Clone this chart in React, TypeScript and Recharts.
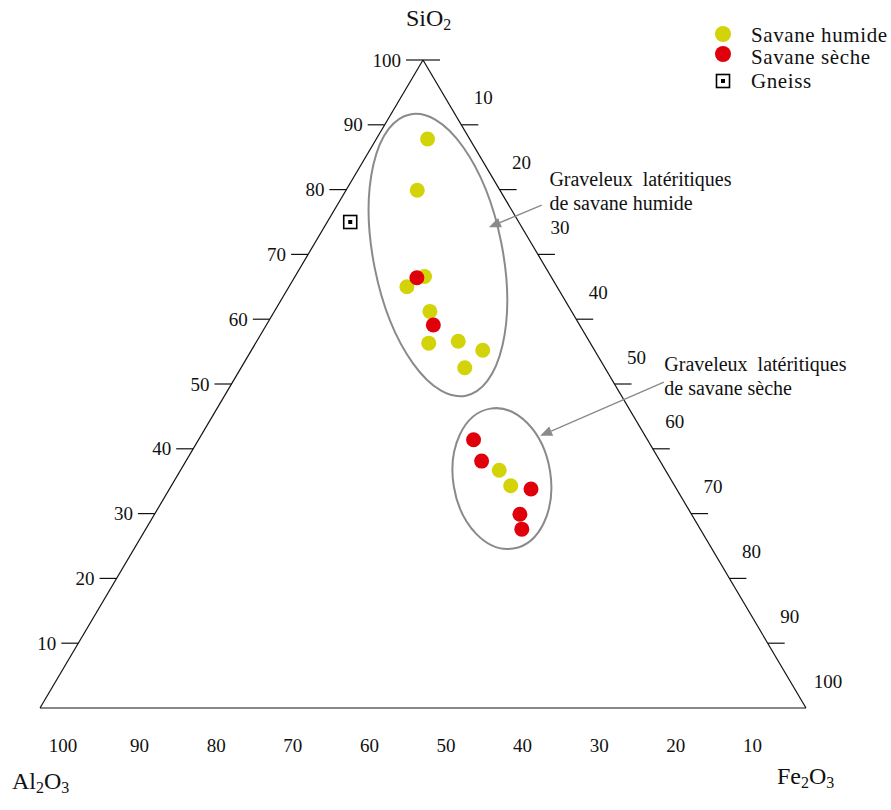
import React from 'react';
import { ScatterChart, Scatter, XAxis, YAxis, ReferenceLine, ReferenceDot, Legend } from 'recharts';

// ---- Data (ternary compositions, %) ----
const HUMIDE_SIO2 = [87.8, 79.9, 66.6, 65.0, 61.2, 56.3, 56.6, 55.2, 52.5, 36.7, 34.3];
const HUMIDE_AL2O3 = [5.5, 10.8, 16.5, 19.6, 18.5, 21.1, 17.1, 14.6, 18.3, 21.7, 21.4];
const HUMIDE_FE2O3 = [6.7, 9.3, 16.9, 15.4, 20.3, 22.6, 26.3, 30.2, 29.2, 41.6, 44.3];

const SECHE_SIO2 = [66.4, 59.1, 41.4, 38.1, 33.8, 29.9, 27.6];
const SECHE_AL2O3 = [17.6, 19.1, 22.7, 23.3, 19.0, 22.4, 23.3];
const SECHE_FE2O3 = [16.0, 21.8, 35.9, 38.6, 47.2, 47.7, 49.1];

const GNEISS_SIO2 = [75.0];
const GNEISS_AL2O3 = [22.0];
const GNEISS_FE2O3 = [3.0];

// ---- Axis ticks / labels ----
const SIO2_TICKS = [10, 20, 30, 40, 50, 60, 70, 80, 90, 100];
const FE2O3_TICKS = [0, 10, 20, 30, 40, 50, 60, 70, 80, 90];
const FE2O3_LABELS = [10, 20, 30, 40, 50, 60, 70, 80, 90, 100];
const AL2O3_LABELS = [100, 90, 80, 70, 60, 50, 40, 30, 20, 10];

const SERIES_NAMES = ['Savane humide', 'Savane sèche', 'Gneiss'];

// ---- Annotations (ternary coordinates [SiO2, Al2O3, Fe2O3]) ----
const ELLIPSE_AXES: [number[], number[], number][] = [
  [[91.6, 5.9, 2.5], [48.2, 20.3, 31.5], 0.45],
  [[46.2, 18.1, 35.7], [24.6, 25.9, 49.5], 0.687],
];
const ARROWS: [number[], number[]][] = [
  [[77.6, -4.3, 26.7], [74.2, 4.3, 21.5]],
  [[50.3, -6.6, 56.3], [42.0, 13.7, 44.3]],
];
const NOTES: [number[], string[]][] = [
  [[80.6, -6.8, 26.2], ['Graveleux  latéritiques', 'de savane humide']],
  [[52.0, -7.5, 55.5], ['Graveleux  latéritiques', 'de savane sèche']],
];

// ---- Styles ----
const FONT = '"Liberation Serif", "Times New Roman", serif';
const YELLOW = '#d3d30a';
const RED = '#e0000c';
const GRAY = '#8a8a8a';
const TICK_LEN = 2.22; // data units
const DOT_R = 7.5;

const toXY = (s: number, a: number, f: number) => {
  const t = s + a + f;
  const S = (s / t) * 100;
  const F = (f / t) * 100;
  return { x: F + S / 2, y: S };
};
const pt = (v: number[]) => toXY(v[0], v[1], v[2]);

const build = (s: number[], a: number[], f: number[]) =>
  s.map((v, i) => ({ ...toXY(v, a[i], f[i]), SiO2: v, Al2O3: a[i], Fe2O3: f[i] }));

const humideData = build(HUMIDE_SIO2, HUMIDE_AL2O3, HUMIDE_FE2O3);
const secheData = build(SECHE_SIO2, SECHE_AL2O3, SECHE_FE2O3);
const gneissData = build(GNEISS_SIO2, GNEISS_AL2O3, GNEISS_FE2O3);

const VERT_TOP = toXY(100, 0, 0);
const VERT_AL = toXY(0, 100, 0);
const VERT_FE = toXY(0, 0, 100);

const circleShape = (color: string) => (p: any) => (
  <circle cx={p.cx} cy={p.cy} r={DOT_R} fill={color} />
);
const squareShape = (p: any) => (
  <g>
    <rect x={p.cx - 6.5} y={p.cy - 6.5} width={13} height={13} fill="#fff" stroke="#000" strokeWidth={1.6} />
    <rect x={p.cx - 2} y={p.cy - 2} width={4} height={4} fill="#000" />
  </g>
);

const textStyle = { fontFamily: FONT, fill: '#111' };

const renderLegend = (props: any) => {
  const items = [...(props.payload || [])].sort(
    (a: any, b: any) => SERIES_NAMES.indexOf(a.value) - SERIES_NAMES.indexOf(b.value)
  );
  const iconY = [14, 34, 61];
  const textY = [22, 44, 68];
  return (
    <svg width={185} height={80} style={{ display: 'block', overflow: 'visible' }}>
      {items.map((it: any, i: number) => (
        <g key={i}>
          {it.type === 'square' ? (
            squareShape({ cx: 23, cy: iconY[i] })
          ) : (
            <circle cx={23} cy={iconY[i]} r={8} fill={it.color} />
          )}
          <text x={51} y={textY[i]} fontSize={21} style={{ ...textStyle, letterSpacing: 0.6 }}>
            {it.value}
          </text>
        </g>
      ))}
    </svg>
  );
};

const ellipseShape = (ratio: number) => (p: any) => {
  const cx = (p.x1 + p.x2) / 2;
  const cy = (p.y1 + p.y2) / 2;
  const dx = p.x2 - p.x1;
  const dy = p.y2 - p.y1;
  const a = Math.sqrt(dx * dx + dy * dy) / 2;
  const ang = (Math.atan2(dy, dx) * 180) / Math.PI;
  return (
    <ellipse cx={cx} cy={cy} rx={a} ry={a * ratio} fill="none" stroke={GRAY} strokeWidth={2}
      transform={`rotate(${ang} ${cx} ${cy})`} />
  );
};

const arrowShape = (p: any) => {
  const ang = Math.atan2(p.y2 - p.y1, p.x2 - p.x1);
  const L = 12;
  const W = 5;
  const bx = p.x2 - L * Math.cos(ang);
  const by = p.y2 - L * Math.sin(ang);
  const nx = -Math.sin(ang) * W;
  const ny = Math.cos(ang) * W;
  return (
    <g>
      <line x1={p.x1} y1={p.y1} x2={bx} y2={by} stroke={GRAY} strokeWidth={1.4} />
      <polygon points={`${p.x2},${p.y2} ${bx + nx},${by + ny} ${bx - nx},${by - ny}`} fill={GRAY} />
    </g>
  );
};

const tickShape = (p: any) => (
  <line x1={p.x1} y1={p.y1} x2={p.x2} y2={p.y2} stroke="#111" strokeWidth={1.2} />
);

const textAt = (label: React.ReactNode, dx: number, dy: number, anchor: string, size: number) => (p: any) => (
  <text x={p.cx + dx} y={p.cy + dy} textAnchor={anchor} fontSize={size} style={{ ...textStyle, whiteSpace: 'pre' }}>
    {label}
  </text>
);

const sub = (t: string) => (
  <tspan fontSize={16} dy={4}>{t}</tspan>
);

export default function App() {
  const left = SIO2_TICKS.map((v) => toXY(v, 100 - v, 0));
  const right = FE2O3_TICKS.map((v) => toXY(100 - v, 0, v));
  return (
    <div style={{ position: 'absolute', left: 0, top: 0, width: 891, height: 810, background: '#fff' }}>
      <ScatterChart width={891} height={810} margin={{ top: 60, right: 85, bottom: 102, left: 40 }}>
        <XAxis type="number" dataKey="x" domain={[0, 100]} hide />
        <YAxis type="number" dataKey="y" domain={[0, 100]} hide />

        {/* Triangle */}
        <ReferenceLine segment={[VERT_AL, VERT_TOP]} stroke="#111" strokeWidth={1.2} ifOverflow="visible" />
        <ReferenceLine segment={[VERT_TOP, VERT_FE]} stroke="#111" strokeWidth={1.2} ifOverflow="visible" />
        <ReferenceLine segment={[VERT_AL, VERT_FE]} stroke="#111" strokeWidth={1.2} ifOverflow="visible" />

        {/* SiO2 ticks (left edge) */}
        {left.map((p, i) => (
          <ReferenceLine key={`lt${i}`} segment={[p, { x: p.x - TICK_LEN, y: p.y }]} shape={tickShape} ifOverflow="visible" />
        ))}
        {left.map((p, i) => (
          <ReferenceDot key={`ll${i}`} x={p.x} y={p.y} r={1} ifOverflow="visible"
            shape={textAt(String(SIO2_TICKS[i]), -22, 6.5, 'end', 19)} />
        ))}

        {/* Fe2O3 ticks (right edge) */}
        {right.map((p, i) => (
          <ReferenceLine key={`rt${i}`} segment={[p, { x: p.x + TICK_LEN, y: p.y }]} shape={tickShape} ifOverflow="visible" />
        ))}
        {FE2O3_LABELS.map((v, i) => {
          const p = toXY(100 - v, 0, v);
          return (
            <ReferenceDot key={`rl${i}`} x={p.x} y={p.y} r={1} ifOverflow="visible"
              shape={textAt(String(v), 22, -20.5, 'middle', 19)} />
          );
        })}

        {/* Al2O3 labels (bottom) */}
        {AL2O3_LABELS.map((v, i) => {
          const p = toXY(0, v, 100 - v);
          return (
            <ReferenceDot key={`bl${i}`} x={p.x} y={p.y} r={1} ifOverflow="visible"
              shape={textAt(String(v), 23, 43.5, 'middle', 19)} />
          );
        })}

        {/* Axis titles */}
        <ReferenceDot x={VERT_TOP.x} y={VERT_TOP.y} r={1} ifOverflow="visible"
          shape={textAt(<>SiO{sub('2')}</>, -17, -34, 'start', 24)} />
        <ReferenceDot x={VERT_AL.x} y={VERT_AL.y} r={1} ifOverflow="visible"
          shape={textAt(<>Al{sub('2')}<tspan dy={-4}>O</tspan>{sub('3')}</>, -28, 81, 'start', 24)} />
        <ReferenceDot x={VERT_FE.x} y={VERT_FE.y} r={1} ifOverflow="visible"
          shape={textAt(<>Fe{sub('2')}<tspan dy={-4}>O</tspan>{sub('3')}</>, -29, 76, 'start', 24)} />

        {/* Ellipses */}
        {ELLIPSE_AXES.map(([a, b, ratio], i) => (
          <ReferenceLine key={`el${i}`} segment={[pt(a), pt(b)]} shape={ellipseShape(ratio)} ifOverflow="visible" />
        ))}

        {/* Arrows */}
        {ARROWS.map(([a, b], i) => (
          <ReferenceLine key={`ar${i}`} segment={[pt(a), pt(b)]} shape={arrowShape} ifOverflow="visible" />
        ))}

        {/* Notes */}
        {NOTES.map(([at, lines], i) => {
          const p = pt(at);
          return (
            <ReferenceDot key={`nt${i}`} x={p.x} y={p.y} r={1} ifOverflow="visible"
              shape={(q: any) => (
                <text x={q.cx} y={q.cy} fontSize={20} style={{ ...textStyle, whiteSpace: 'pre' }}>
                  {lines.map((l, j) => (
                    <tspan key={j} x={q.cx} dy={j === 0 ? 0 : 24}>{l}</tspan>
                  ))}
                </text>
              )} />
          );
        })}

        <Scatter name={SERIES_NAMES[0]} data={humideData} fill={YELLOW} legendType="circle"
          shape={circleShape(YELLOW)} isAnimationActive={false} />
        <Scatter name={SERIES_NAMES[1]} data={secheData} fill={RED} legendType="circle"
          shape={circleShape(RED)} isAnimationActive={false} />
        <Scatter name={SERIES_NAMES[2]} data={gneissData} fill="#000" legendType="square"
          shape={squareShape} isAnimationActive={false} />

        <Legend layout="vertical" align="center" verticalAlign="middle" content={renderLegend}
          wrapperStyle={{ position: 'absolute', left: 700, top: 20, width: 185, height: 80 }} />
      </ScatterChart>
    </div>
  );
}
